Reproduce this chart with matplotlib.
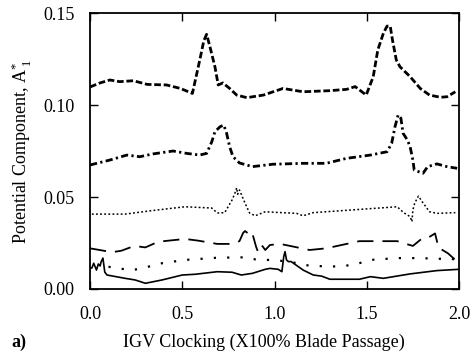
import numpy as np
import matplotlib
matplotlib.use("Agg")
import matplotlib.pyplot as plt

plt.rcParams['font.family'] = ['Liberation Serif', 'DejaVu Serif']
plt.rcParams['mathtext.fontset'] = 'custom'
plt.rcParams['mathtext.rm'] = 'Liberation Serif'
plt.rcParams['mathtext.it'] = 'Liberation Serif'

# Harmonic 1 potential component vs IGV clocking, six measurement locations
x1 = [0.0, 0.054, 0.108, 0.16, 0.235, 0.31, 0.415, 0.49, 0.555, 0.595, 0.617, 0.632, 0.65, 0.677,
      0.695, 0.72, 0.757, 0.795, 0.85, 0.94, 1.046, 1.155, 1.30, 1.39, 1.437, 1.497, 1.535, 1.56,
      1.59, 1.61, 1.627, 1.64, 1.66, 1.68, 1.735, 1.79, 1.84, 1.90, 1.935, 1.98]
y1 = [0.1098, 0.112, 0.1136, 0.1127, 0.1132, 0.1112, 0.1109, 0.109, 0.1063, 0.1245, 0.135, 0.1384,
      0.1317, 0.1208, 0.1109, 0.112, 0.109, 0.1054, 0.104, 0.1054, 0.109, 0.1072, 0.1078, 0.1085,
      0.110, 0.1054, 0.1154, 0.130, 0.139, 0.1429, 0.1429, 0.135, 0.1245, 0.1208, 0.1154, 0.109,
      0.1054, 0.1042, 0.1045, 0.1072]

x2 = [0.0, 0.108, 0.20, 0.27, 0.34, 0.45, 0.525, 0.595, 0.632, 0.66, 0.677, 0.705, 0.725, 0.74,
      0.757, 0.775, 0.81, 0.88, 0.99, 1.155, 1.28, 1.39, 1.52, 1.61, 1.635, 1.653, 1.67, 1.685,
      1.697, 1.72, 1.735, 1.75, 1.757, 1.78, 1.805, 1.83, 1.88, 1.935, 1.99]
y2 = [0.0674, 0.0701, 0.0728, 0.0719, 0.0734, 0.075, 0.0737, 0.0728, 0.0737, 0.080, 0.0855,
      0.0882, 0.0891, 0.0848, 0.0773, 0.0719, 0.0685, 0.0665, 0.0678, 0.0683, 0.0683, 0.071,
      0.0728, 0.0746, 0.0792, 0.0882, 0.0946, 0.0928, 0.0846, 0.081, 0.0773, 0.0701, 0.0647,
      0.0638, 0.0629, 0.0665, 0.068, 0.0665, 0.0656]

x3 = [0.01, 0.19, 0.335, 0.515, 0.66, 0.69, 0.73, 0.77, 0.785, 0.795, 0.80, 0.81, 0.84, 0.865,
      0.895, 0.95, 1.0, 1.12, 1.155, 1.21, 1.425, 1.665, 1.70, 1.735, 1.745, 1.75, 1.76, 1.78,
      1.80, 1.84, 1.88, 1.98]
y3 = [0.0407, 0.0407, 0.0426, 0.0447, 0.044, 0.0413, 0.0415, 0.0484, 0.052, 0.055, 0.0515,
      0.0538, 0.0467, 0.0413, 0.0398, 0.042, 0.0417, 0.0411, 0.0398, 0.0415, 0.043, 0.0447,
      0.0415, 0.0393, 0.0366, 0.043, 0.0467, 0.0505, 0.0475, 0.042, 0.0411, 0.0415]

x4 = [0.0, 0.12, 0.17, 0.24, 0.30, 0.37, 0.515, 0.585, 0.69, 0.77, 0.81, 0.83, 0.84, 0.86, 0.875,
      0.885, 0.90, 0.91, 0.93, 0.95, 0.975, 1.03, 1.085, 1.19, 1.28, 1.46, 1.665, 1.75, 1.80,
      1.83, 1.87, 1.89, 1.91, 1.94, 1.98]
y4 = [0.0221, 0.020, 0.0208, 0.0234, 0.0226, 0.0257, 0.0272, 0.0263, 0.0245, 0.0245, 0.026,
      0.0305, 0.0315, 0.030, 0.0312, 0.0284, 0.023, 0.0203, 0.0239, 0.0212, 0.0239, 0.0245,
      0.0234, 0.0212, 0.0221, 0.026, 0.026, 0.0234, 0.0275, 0.0277, 0.0302, 0.0221, 0.0212,
      0.0194, 0.0158]

x5 = [0.10, 0.15, 0.23, 0.28, 0.39, 0.515, 0.69, 0.84, 0.895, 0.96, 0.975, 1.085, 1.155, 1.30,
      1.425, 1.52, 1.665, 1.80, 1.88, 1.95, 1.98]
y5 = [0.0121, 0.0112, 0.0103, 0.0112, 0.014, 0.0158, 0.017, 0.0172, 0.0161, 0.0158, 0.0158,
      0.0149, 0.013, 0.0121, 0.013, 0.0158, 0.0168, 0.0168, 0.0163, 0.0168, 0.0158]

x6 = [0.0, 0.01, 0.02, 0.035, 0.045, 0.055, 0.06, 0.07, 0.075, 0.08, 0.092, 0.19, 0.245, 0.30,
      0.39, 0.50, 0.57, 0.69, 0.77, 0.82, 0.88, 0.95, 0.975, 1.02, 1.04, 1.05, 1.057, 1.065,
      1.075, 1.09, 1.155, 1.21, 1.255, 1.30, 1.46, 1.52, 1.59, 1.735, 1.88, 2.0]
y6 = [0.0114, 0.0114, 0.014, 0.0103, 0.0136, 0.0125, 0.0147, 0.0168, 0.013, 0.0092, 0.0076,
      0.0058, 0.0049, 0.0031, 0.0049, 0.0076, 0.008, 0.0094, 0.0091, 0.0076, 0.0085, 0.0107,
      0.0112, 0.0107, 0.0094, 0.0176, 0.0203, 0.0158, 0.0149, 0.0149, 0.0103, 0.0076, 0.007,
      0.0053, 0.0053, 0.0067, 0.0058, 0.0082, 0.010, 0.0107]

fig = plt.figure(figsize=(4.77, 3.52), dpi=100)
ax = fig.add_axes([0.1887, 0.179, 0.7736, 0.784])

ax.plot(x1, y1, color='black', lw=2.0, dashes=(2.4, 1.0))
ax.plot(x2, y2, color='black', lw=2.0, dashes=(2.6, 1.2, 0.8, 1.2))
ax.plot(x3, y3, color='black', lw=1.1, dashes=(1.2, 1.5))
ax.plot(x4, y4, color='black', lw=1.3, dashes=(9, 5))
ax.plot(x5, y5, color='black', lw=1.6, dashes=(1.0, 5.0))
ax.plot(x6, y6, color='black', lw=1.2)

ax.set_xlim(0, 2.0)
ax.set_ylim(0, 0.15)
ax.set_xticks([0.0, 0.5, 1.0, 1.5, 2.0])
ax.set_yticks([0.0, 0.05, 0.10, 0.15])
ax.set_xticklabels(['0.0', '0.5', '1.0', '1.5', '2.0'])
ax.set_yticklabels(['0.00', '0.05', '0.10', '0.15'])
ax.tick_params(direction='in', length=6, width=1.0, top=True, right=True, labelsize=13)
ax.tick_params(axis='x', pad=12)
ax.tick_params(axis='y', pad=11)
for s in ax.spines.values():
    s.set_linewidth(1.3)

ax.set_xlabel('IGV Clocking (X100% Blade Passage)', fontsize=13)
ax.xaxis.set_label_coords(0.47, -0.163)
ax.set_ylabel(r'Potential Component, A$^{*}_{\ 1}$', fontsize=13)
ax.yaxis.set_label_coords(-0.152, 0.5)

fig.text(0.024, 0.004, 'a)', fontsize=13, fontweight='bold', va='bottom')

fig.savefig('out.png', dpi=100)
